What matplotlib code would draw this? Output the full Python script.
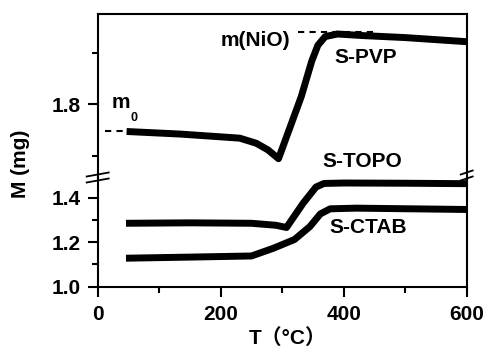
import matplotlib
matplotlib.use('Agg')
import matplotlib.pyplot as plt
from matplotlib.lines import Line2D

# data (T in degC, M in mg)
t_pvp = [47, 134, 231, 258, 277, 294, 313, 331, 348, 358, 370, 390, 430, 500, 600]
m_pvp = [1.747, 1.742, 1.734, 1.724, 1.711, 1.694, 1.756, 1.815, 1.884, 1.915, 1.932, 1.937, 1.934, 1.930, 1.922]

t_topo = [46, 150, 250, 290, 307, 334, 355, 368, 400, 500, 600]
m_topo = [1.285, 1.287, 1.285, 1.276, 1.266, 1.375, 1.448, 1.464, 1.466, 1.465, 1.463]

t_ctab = [46, 150, 250, 285, 320, 345, 362, 378, 420, 600]
m_ctab = [1.128, 1.133, 1.138, 1.172, 1.212, 1.27, 1.327, 1.35, 1.353, 1.347]

m0_level = 1.747
m_nio_level = 1.94

lw_curve = 5
lw_axis = 1.5
fs = 15

plt.rcParams['font.family'] = ['Liberation Sans', 'Noto Sans CJK SC', 'DejaVu Sans']
plt.rcParams['font.weight'] = 'bold'

fig = plt.figure(figsize=(4.87, 3.56), dpi=100)
ax_lo = fig.add_axes([0.2006, 0.1947, 0.7577, 0.3081])
ax_hi = fig.add_axes([0.2006, 0.5028, 0.7577, 0.4579], sharex=ax_lo)

# upper panel
ax_hi.plot(t_pvp, m_pvp, color='black', linewidth=lw_curve, solid_capstyle='butt',
           solid_joinstyle='round', zorder=3)
ax_hi.plot([12, 47], [m0_level, m0_level], color='black', linewidth=lw_axis, dashes=(3, 2.5))
ax_hi.plot([326, 450], [m_nio_level, m_nio_level], color='black', linewidth=lw_axis, dashes=(3, 2.5), zorder=2)
ax_hi.set_ylim(1.6583, 1.976)
ax_hi.set_yticks([1.8])
ax_hi.set_yticks([1.7, 1.9], minor=True)
ax_hi.spines['bottom'].set_visible(False)
ax_hi.tick_params(axis='x', which='both', bottom=False, labelbottom=False)

ax_hi.text(22, 1.803, 'm', fontsize=fs, fontweight='bold', ha='left', va='center')
ax_hi.text(54, 1.774, '0', fontsize=9, fontweight='bold', ha='left', va='center')
ax_hi.text(313, 1.924, 'm(NiO)', fontsize=fs, fontweight='bold', ha='right', va='center')
ax_hi.text(385, 1.892, 'S-PVP', fontsize=fs, fontweight='bold', ha='left', va='center')
ax_hi.text(365, 1.689, 'S-TOPO', fontsize=fs, fontweight='bold', ha='left', va='center')

# lower panel
ax_lo.plot(t_topo, m_topo, color='black', linewidth=lw_curve, solid_capstyle='butt',
           solid_joinstyle='round')
ax_lo.plot(t_ctab, m_ctab, color='black', linewidth=lw_curve, solid_capstyle='butt',
           solid_joinstyle='round')
ax_lo.set_ylim(1.0, 1.493)
ax_lo.set_xlim(0, 600)
ax_lo.set_yticks([1.0, 1.2, 1.4])
ax_lo.set_yticks([1.1, 1.3], minor=True)
ax_lo.set_xticks([0, 200, 400, 600])
ax_lo.set_xticks([100, 300, 500], minor=True)
ax_lo.spines['top'].set_visible(False)
ax_lo.text(376, 1.268, 'S-CTAB', fontsize=fs, fontweight='bold', ha='left', va='center')

for ax in (ax_lo, ax_hi):
    for s in ax.spines.values():
        s.set_linewidth(lw_axis)
    ax.tick_params(which='major', direction='out', length=7, width=lw_axis, labelsize=fs, pad=5)
    ax.tick_params(which='minor', direction='out', length=4.3, width=lw_axis)
    ax.tick_params(right=False, top=False, which='both')
    for lab in ax.get_xticklabels() + ax.get_yticklabels():
        lab.set_fontweight('bold')

ax_lo.tick_params(axis='x', which='major', pad=6)

# break marks on the spines
W, H = 487, 356
def brk(xc, yc, half):
    for dy in (-3, 3):
        x0, x1 = (xc - half) / W, (xc + half) / W
        y0, y1 = 1 - (yc + dy + 2) / H, 1 - (yc + dy - 2) / H
        fig.add_artist(Line2D([x0, x1], [y0, y1], color='black', linewidth=1.3))

brk(97.7, 177.5, 11)
brk(466.7, 175.5, 6)

fig.text(20.7 / W, 1 - 164 / H, 'M (mg)', rotation=90, fontsize=fs, fontweight='bold',
         ha='center', va='center')
fig.text(288 / W, 1 - 338 / H, 'T（°C）', fontsize=fs, fontweight='bold',
         ha='center', va='center')

fig.savefig('out.png', dpi=100)
